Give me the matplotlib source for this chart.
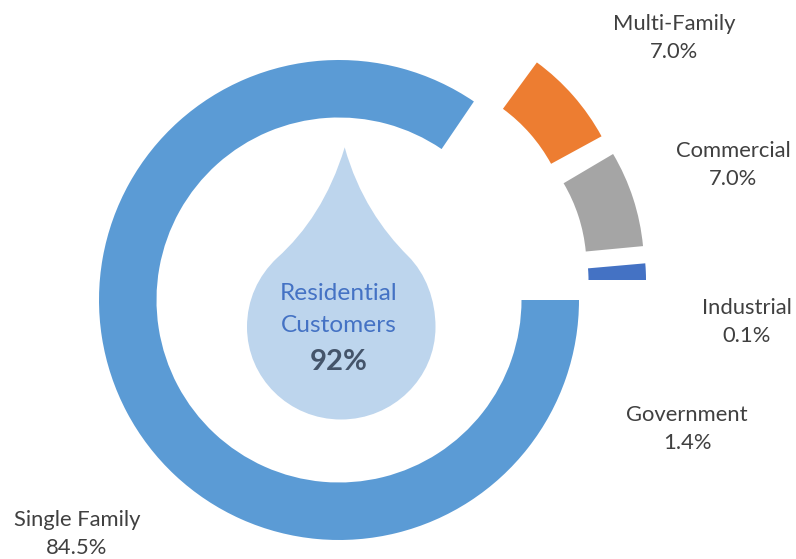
import matplotlib
matplotlib.use('Agg')
import matplotlib.pyplot as plt
from matplotlib.patches import Wedge, PathPatch
from matplotlib.path import Path

plt.rcParams['font.family'] = ['Lato', 'DejaVu Sans']

# slices, clockwise from east like the original chart
categories = ['Single Family', 'Multi-Family', 'Commercial', 'Industrial', 'Government']
shares = [84.5, 7.0, 7.0, 0.1, 1.4]

center_title = ['Residential', 'Customers']
center_value = '92%'

# styles per slice: colour, outer radius, shift from chart centre (px), rotation
colors = ['#5B9BD5', '#ED7D31', '#A5A5A5', 'none', '#4472C4']
radii = [240, 225, 222, 190, 190]
shifts = [(0, 0), (65, 56), (83, 33), (100, 15), (117, 20)]
rotation = [0, -2, 0, 0, 0]
ring_width = 57.5
label_pos = [(77, 534), (674, 38), (733, 165), (747, 322), (687, 429)]

H = 559
cx, cy = 339, H - 300

fig = plt.figure(figsize=(7.96, 5.59), dpi=100)
ax = fig.add_axes([0, 0, 1, 1])
ax.set_xlim(0, 796)
ax.set_ylim(0, H)
ax.axis('off')

# ring
start = 0
for i, share in enumerate(shares):
    sweep = share * 3.6
    t2 = start + rotation[i]
    t1 = t2 - sweep
    if i == 0:
        # first slice goes clockwise from east
        t1, t2 = -sweep, 0
        start = -sweep + 360
    else:
        start -= sweep
    ax.add_patch(Wedge((cx + shifts[i][0], cy + shifts[i][1]), radii[i], t1, t2,
                       width=ring_width, facecolor=colors[i], edgecolor='none'))
    ax.text(label_pos[i][0], H - label_pos[i][1], f'{categories[i]}\n{share:.1f}%',
            ha='center', va='center', fontsize=15.8, color='#404040', linespacing=1.5)

# water drop behind the centre text
drop = [(344.7, 147.3),
        (358, 195), (382, 230), (408, 256),
        (426, 274), (435.5, 300), (435.5, 327),
        (435.5, 378), (393, 419.5), (341, 419.5),
        (289, 419.5), (247, 378), (247, 327),
        (247, 300), (258, 276), (277, 258),
        (306, 232), (330, 196), (344.7, 147.3)]
codes = [Path.MOVETO] + [Path.CURVE4] * 18
ax.add_patch(PathPatch(Path([(x, H - y) for x, y in drop], codes),
                       facecolor='#BDD5ED', edgecolor='none'))

ax.text(339, H - 294, center_title[0], ha='center', va='center', fontsize=17.6, color='#4472C4')
ax.text(339, H - 326, center_title[1], ha='center', va='center', fontsize=17.6, color='#4472C4')
ax.text(339, H - 362, center_value, ha='center', va='center', fontsize=21, fontweight='bold', color='#44546A')

fig.savefig('out.png', dpi=100)
